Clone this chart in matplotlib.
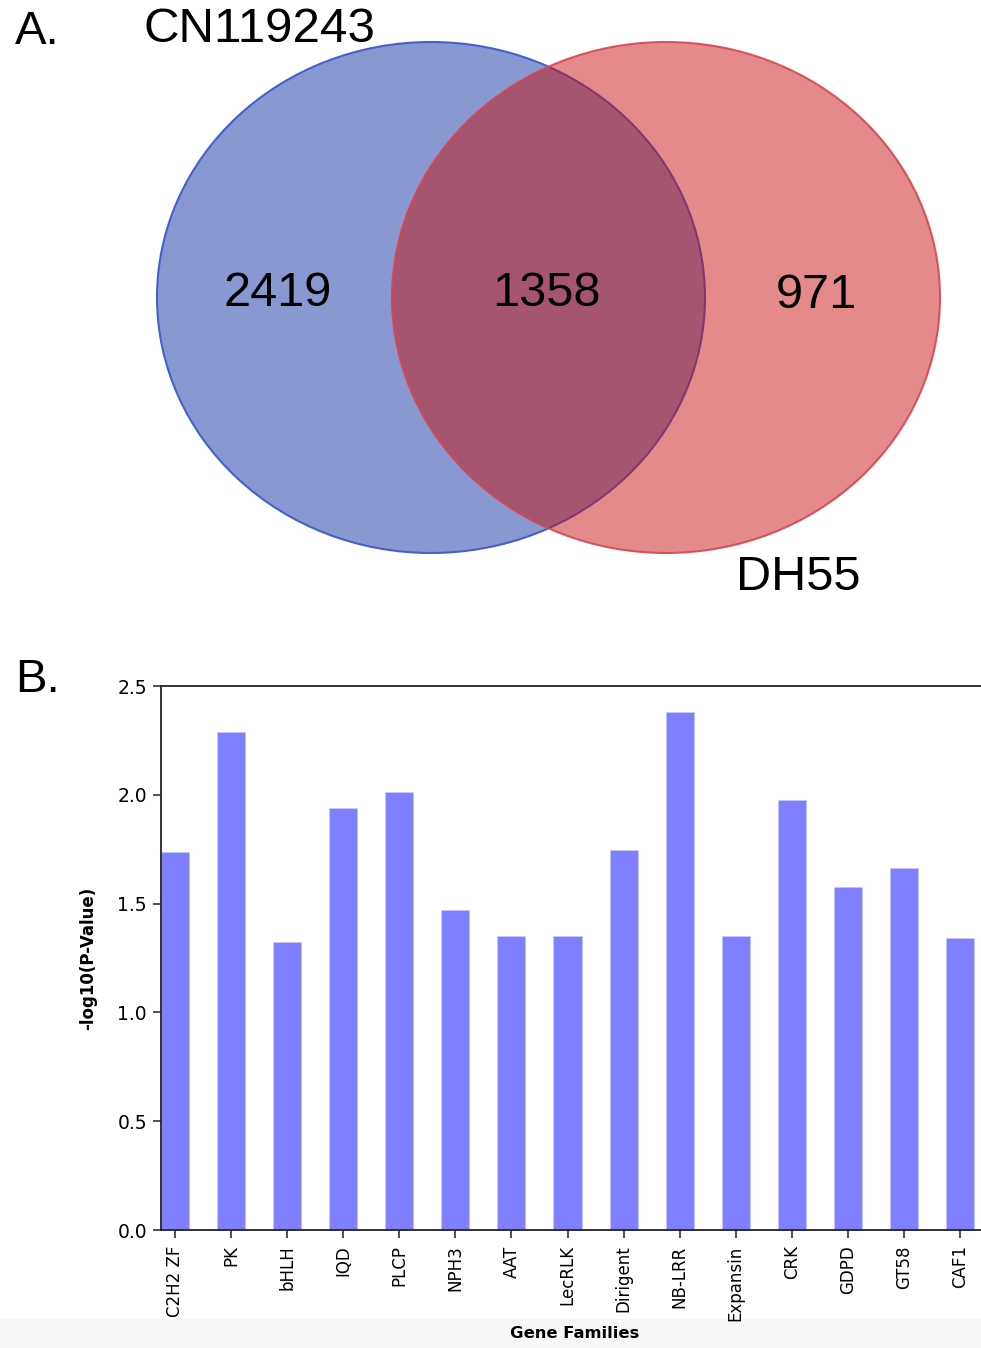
import matplotlib
matplotlib.use("Agg")
import matplotlib.pyplot as plt
from matplotlib.patches import Ellipse, Rectangle

# ---- data ----
set_names = ["CN119243", "DH55"]
venn_counts = [2419, 1358, 971]  # only CN119243, shared, only DH55

families = ["C2H2 ZF", "PK", "bHLH", "IQD", "PLCP", "NPH3", "AAT", "LecRLK",
            "Dirigent", "NB-LRR", "Expansin", "CRK", "GDPD", "GT58", "CAF1"]
neglog_p = [1.737, 2.289, 1.324, 1.939, 2.013, 1.471, 1.351, 1.351,
            1.746, 2.381, 1.351, 1.976, 1.576, 1.664, 1.342]
yticks = [0.0, 0.5, 1.0, 1.5, 2.0, 2.5]

W, H = 981, 1348
fig = plt.figure(figsize=(W / 100, H / 100), dpi=100)

# ---- panel A: Venn ----
sans = ["Liberation Sans", "DejaVu Sans"]
va = fig.add_axes([0, 0, 1, 1])
va.set_xlim(0, W)
va.set_ylim(H, 0)
va.axis("off")
blue = Ellipse((431, 297.5), 548, 511, facecolor=(136/255, 152/255, 208/255),
               edgecolor=(70/255, 95/255, 205/255), linewidth=1.5, zorder=1)
red = Ellipse((666, 297.5), 548, 511, facecolor=(200/255, 12/255, 10/255, 0.48),
              edgecolor=(215/255, 70/255, 80/255, 0.9), linewidth=1.5, zorder=2)
va.add_patch(blue)
va.add_patch(red)
va.text(278, 293, str(venn_counts[0]), ha="center", va="center", fontsize=35, family=sans, zorder=3)
va.text(546, 293, str(venn_counts[1]), ha="center", va="center", fontsize=35, family=sans, zorder=3)
va.text(816, 296, str(venn_counts[2]), ha="center", va="center", fontsize=35, family=sans, zorder=3)
va.text(143, 30, set_names[0], ha="left", va="center", fontsize=35.5, family=sans, zorder=3)
va.text(798, 577, set_names[1], ha="center", va="center", fontsize=35, family=sans, zorder=3)
va.text(15, 32, "A.", ha="left", va="center", fontsize=34, family=sans, zorder=3)
va.text(15, 680, "B.", ha="left", va="center", fontsize=34, family=sans, zorder=3)
# light grey band at the bottom
va.add_patch(Rectangle((0, 1319), W, H - 1319, facecolor="#f7f7f7", edgecolor="none", zorder=0))

# ---- panel B: bar chart ----
px_per_unit = 56.07
x_left = 161
x_right = 1002
ax = fig.add_axes([x_left / W, (H - 1230) / H, (x_right - x_left) / W, (1230 - 686) / H])
xs = list(range(len(families)))
ax.bar(xs, neglog_p, width=0.5, color="blue", alpha=0.5, edgecolor="#c8c8ff", linewidth=0.6)
ax.set_xlim(-0.25, -0.25 + (x_right - x_left) / px_per_unit)
ax.set_ylim(0, 2.5)
ax.set_yticks(yticks)
ax.set_yticklabels([f"{v:.1f}" for v in yticks], fontsize=13.5)
ax.set_xticks(xs)
ax.set_xticklabels(families, rotation=90, fontsize=12)
ax.tick_params(axis="both", length=6, width=1.2, color="#333333")
ax.tick_params(axis="y", pad=4)
ax.tick_params(axis="x", pad=5)
for s in ["left", "bottom", "top"]:
    ax.spines[s].set_linewidth(1.3)
    ax.spines[s].set_color("#222222")
ax.spines["right"].set_visible(False)
ax.set_ylabel("-log10(P-Value)", fontsize=12, fontweight="bold")
ax.yaxis.set_label_coords((97 - x_left) / (x_right - x_left), 0.5)
fig.text(575 / W, 1 - 1334 / H, "Gene Families", ha="center", va="center",
         fontsize=11.8, fontweight="bold")

fig.savefig("out.png", dpi=100)
